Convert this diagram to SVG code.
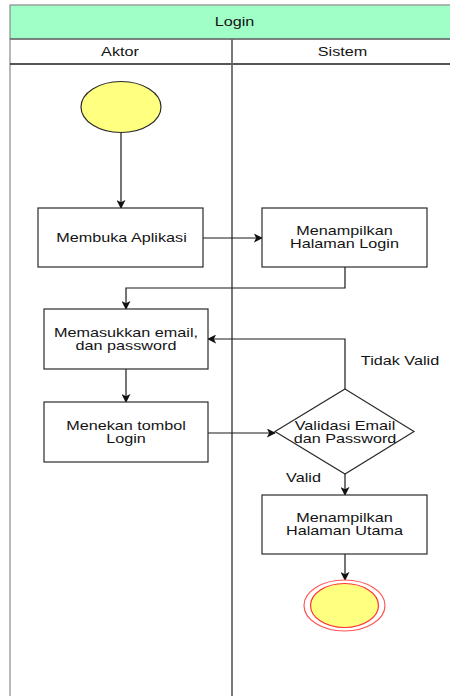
<svg xmlns="http://www.w3.org/2000/svg" width="450" height="696" viewBox="0 0 450 696">
<style>
.t{font-family:"Liberation Sans",Arial,Helvetica,sans-serif;font-size:12px;fill:#141414;text-anchor:middle;dominant-baseline:central}
.box{fill:#ffffff;stroke:#2b2b2b;stroke-width:1.2}
.edge{fill:none;stroke:#1a1a1a;stroke-width:1.2}
.pool{fill:none;stroke:#8a8a8a;stroke-width:1.2}
</style>
<defs>
<marker id="arr" viewBox="0 0 10 10" refX="9" refY="5" markerWidth="9" markerHeight="9" markerUnits="userSpaceOnUse" orient="auto">
<path d="M0,0 L10,5 L0,10 L2.5,5 Z" fill="#111"/>
</marker>
</defs>
<rect width="450" height="696" fill="#ffffff"/>
<g id="pool">
<rect x="10" y="5" width="450" height="34" fill="#A0FFC6" stroke="#8a8a8a" stroke-width="1.2"/>
<line x1="10" y1="39" x2="450" y2="39" stroke="#4a4a4a" stroke-width="1.2"/>
<line x1="10" y1="39" x2="10" y2="696" class="pool"/>
<line x1="10" y1="64" x2="450" y2="64" stroke="#1e1e1e" stroke-width="1.3"/>
<line x1="232" y1="39" x2="232" y2="696" stroke="#6a6a6a" stroke-width="1.8"/>
<text class="t" transform="translate(234.5,22) scale(1.35,1)">Login</text>
<text class="t" transform="translate(120,51.5) scale(1.35,1)">Aktor</text>
<text class="t" transform="translate(342.5,51.5) scale(1.35,1)">Sistem</text>
</g>
<g id="connectors">
<path class="edge" d="M121,132.5 L121,208" marker-end="url(#arr)"/>
<path class="edge" d="M203,238 L262,238" marker-end="url(#arr)"/>
<path class="edge" d="M345,267 L345,288 L126,288 L126,309" marker-end="url(#arr)"/>
<path class="edge" d="M126,369 L126,402" marker-end="url(#arr)"/>
<path class="edge" d="M208,433 L275,433" marker-end="url(#arr)"/>
<path class="edge" d="M345,389 L345,339 L208,339" marker-end="url(#arr)"/>
<path class="edge" d="M345,474 L345,495" marker-end="url(#arr)"/>
<path class="edge" d="M345,554 L345,580" marker-end="url(#arr)"/>
<text class="t" transform="translate(400,361) scale(1.35,1)">Tidak Valid</text>
<text class="t" transform="translate(303.5,478) scale(1.35,1)">Valid</text>
</g>
<g id="start">
<ellipse cx="121" cy="107" rx="40" ry="25.5" fill="#FFFF80" stroke="#2b2b2b" stroke-width="1.2"/>
</g>
<g id="membuka">
<rect class="box" x="38" y="208" width="165" height="59"/>
<text class="t" transform="translate(121.5,238) scale(1.35,1)">Membuka Aplikasi</text>
</g>
<g id="halaman-login">
<rect class="box" x="262" y="208" width="165" height="59"/>
<text class="t" transform="translate(344.5,237.5) scale(1.35,1)"><tspan x="0" dy="-6.3">Menampilkan</tspan><tspan x="0" dy="12.6">Halaman Login</tspan></text>
</g>
<g id="memasukkan">
<rect class="box" x="44" y="309" width="164" height="60"/>
<text class="t" transform="translate(126,339) scale(1.35,1)"><tspan x="0" dy="-6.3">Memasukkan email,</tspan><tspan x="0" dy="12.6">dan password</tspan></text>
</g>
<g id="menekan">
<rect class="box" x="44" y="402" width="164" height="60"/>
<text class="t" transform="translate(126,432) scale(1.35,1)"><tspan x="0" dy="-6.3">Menekan tombol</tspan><tspan x="0" dy="12.6">Login</tspan></text>
</g>
<g id="validasi">
<path d="M345,389 L414,431.5 L345,474 L275,431.5 Z" fill="#ffffff" stroke="#2b2b2b" stroke-width="1.2"/>
<text class="t" transform="translate(345,432) scale(1.35,1)"><tspan x="0" dy="-6.3">Validasi Email</tspan><tspan x="0" dy="12.6">dan Password</tspan></text>
</g>
<g id="halaman-utama">
<rect class="box" x="262" y="495" width="165" height="59"/>
<text class="t" transform="translate(344.5,524.5) scale(1.35,1)"><tspan x="0" dy="-6.3">Menampilkan</tspan><tspan x="0" dy="12.6">Halaman Utama</tspan></text>
</g>
<g id="end">
<ellipse cx="344.5" cy="605.5" rx="40.5" ry="25.5" fill="#ffffff" stroke="#FF5555" stroke-width="1.2"/>
<ellipse cx="344.5" cy="605.5" rx="34" ry="22" fill="#FFFF80" stroke="#FF3333" stroke-width="1.2"/>
</g>
</svg>
